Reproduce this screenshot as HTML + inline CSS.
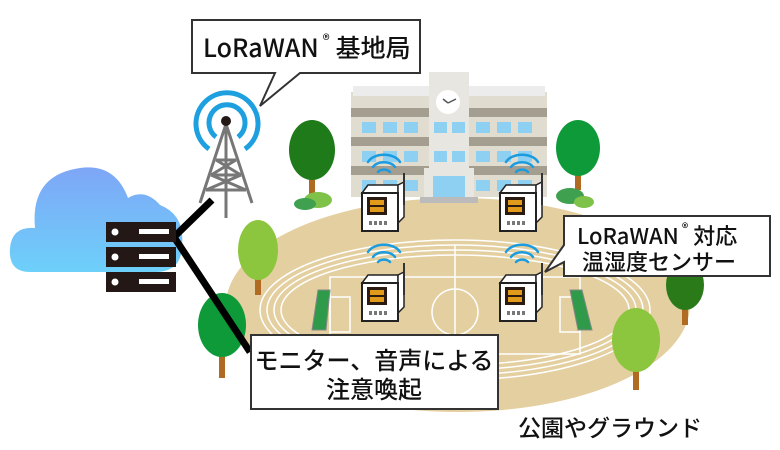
<!DOCTYPE html>
<html><head><meta charset="utf-8"><style>
html,body{margin:0;padding:0;background:#fff;width:780px;height:450px;overflow:hidden}
svg{display:block}
text{font-family:"Noto Sans CJK JP","Liberation Sans",sans-serif;font-weight:500;fill:#111}
</style></head><body>
<svg width="780" height="450" viewBox="0 0 780 450" xmlns="http://www.w3.org/2000/svg">
<defs>
<linearGradient id="cg" x1="0" y1="0" x2="0" y2="1"><stop offset="0" stop-color="#7ea6f6"/><stop offset="1" stop-color="#6dd0fa"/></linearGradient>
<g id="sensor">
 <path d="M0 8 L6 0 L36 0 L36 8 Z" fill="#fff" stroke="#222" stroke-width="1.5"/>
 <path d="M36 0 L42 -3 L42 32 L36 38 Z" fill="#fff" stroke="#222" stroke-width="1.5"/>
 <rect x="0" y="8" width="36" height="38" fill="#fff" stroke="#222" stroke-width="2"/>
 <rect x="5" y="12" width="20" height="18" fill="#2a1a10"/>
 <rect x="8" y="15" width="14" height="5" fill="#e29a1a"/><rect x="8" y="22" width="14" height="5" fill="#e29a1a"/>
 <rect x="7" y="36" width="3" height="4" fill="#777"/><rect x="12" y="36" width="3" height="4" fill="#777"/><rect x="17" y="36" width="3" height="4" fill="#777"/><rect x="22" y="36" width="3" height="4" fill="#777"/>
 <line x1="42" y1="-12" x2="42" y2="20" stroke="#333" stroke-width="2"/>
 <g fill="none" stroke="#1b9be0" stroke-width="2.5" stroke-linecap="round">
  <path d="M16 -13 A7 5 0 0 1 28 -13"/><path d="M11 -18 A12 8 0 0 1 33 -18"/><path d="M6 -23 A17 11 0 0 1 38 -23"/>
 </g>
</g>
<g id="tree">
 <path d="M-3 0 L-3 -25 L-12 -35 L-3 -30 L-3 -40 L3 -40 L3 -30 L12 -35 L3 -25 L3 0 Z" fill="#b06a22"/>
</g>
</defs>

<path d="M30 272 Q8 272 10 248 Q12 226 35 228 Q30 175 80 168 Q115 163 128 198 Q145 188 160 205 Q185 215 182 245 Q182 272 155 272 Z" fill="url(#cg)"/>

<ellipse cx="458" cy="305" rx="232" ry="107" fill="#e4cfa0"/>
<g fill="none" stroke="#fff" stroke-width="1.5">
<ellipse cx="455" cy="310" rx="195" ry="70"/>
<ellipse cx="455" cy="310" rx="188" ry="65"/>
<ellipse cx="455" cy="310" rx="181" ry="60"/>
<ellipse cx="455" cy="310" rx="174" ry="55"/>
<rect x="330" y="277" width="250" height="77"/>
<line x1="455" y1="245" x2="455" y2="375"/>
<circle cx="455" cy="312" r="23"/>
<rect x="330" y="297" width="20" height="35"/><rect x="560" y="297" width="20" height="35"/>
</g>
<g fill="#2e9a4a" stroke="#888" stroke-width="1">
<path d="M318 290 L330 290 L326 330 L312 330 Z"/>
<path d="M570 290 L582 290 L592 330 L578 330 Z"/>
</g>

<rect x="351" y="92" width="196" height="105" fill="#e0dccf"/>
<rect x="353" y="86" width="192" height="10" fill="#ececec"/>
<g fill="#a39e90"><rect x="351" y="108" width="196" height="9"/><rect x="351" y="137" width="196" height="9"/><rect x="351" y="166" width="196" height="9"/></g>
<rect x="429" y="72" width="40" height="103" fill="#e8e6e0"/>
<circle cx="448" cy="102" r="12" fill="#fff"/>
<path d="M448 103 L443 99 M448 103 L456 99" stroke="#555" stroke-width="1.5"/>
<rect x="424" y="168" width="50" height="30" fill="#e8e6e0"/>
<rect x="433" y="176" width="32" height="22" fill="#8ed0f2"/>
<rect x="420" y="197" width="58" height="6" fill="#bbb"/>
<g fill="#8ed0f2">
<rect x="362" y="122" width="14" height="11"/><rect x="383" y="122" width="14" height="11"/><rect x="404" y="122" width="14" height="11"/>
<rect x="362" y="151" width="14" height="11"/><rect x="383" y="151" width="14" height="11"/><rect x="404" y="151" width="14" height="11"/>
<rect x="362" y="180" width="14" height="11"/><rect x="383" y="180" width="14" height="11"/><rect x="404" y="180" width="14" height="11"/>
<rect x="434" y="122" width="13" height="11"/><rect x="452" y="122" width="13" height="11"/>
<rect x="434" y="151" width="13" height="11"/><rect x="452" y="151" width="13" height="11"/>
<rect x="476" y="122" width="14" height="11"/><rect x="497" y="122" width="14" height="11"/><rect x="518" y="122" width="14" height="11"/>
<rect x="476" y="151" width="14" height="11"/><rect x="497" y="151" width="14" height="11"/><rect x="518" y="151" width="14" height="11"/>
<rect x="476" y="180" width="14" height="11"/><rect x="497" y="180" width="14" height="11"/><rect x="518" y="180" width="14" height="11"/>
</g>

<g><use href="#tree" x="312" y="195"/><ellipse cx="312" cy="150" rx="23" ry="30" fill="#1f7a1a"/></g>
<g><use href="#tree" x="578" y="190"/><ellipse cx="578" cy="148" rx="22" ry="28" fill="#0f9a3a"/></g>
<ellipse cx="318" cy="200" rx="14" ry="8" fill="#7fc24a"/><ellipse cx="305" cy="204" rx="11" ry="6" fill="#3fa050"/>
<ellipse cx="570" cy="196" rx="14" ry="8" fill="#3fa050"/><ellipse cx="584" cy="202" rx="10" ry="6" fill="#7fc24a"/>
<g><use href="#tree" x="258" y="295"/><ellipse cx="258" cy="250" rx="20" ry="30" fill="#8cc63f"/></g>
<g><use href="#tree" x="222" y="378"/><ellipse cx="222" cy="325" rx="24" ry="32" fill="#0f9a3a"/></g>
<g><use href="#tree" x="685" y="325"/><ellipse cx="685" cy="285" rx="19" ry="25" fill="#2a7a1a"/></g>
<g><use href="#tree" x="636" y="390"/><ellipse cx="636" cy="340" rx="24" ry="32" fill="#8cc63f"/></g>

<use href="#sensor" x="362" y="185"/>
<use href="#sensor" x="500" y="185"/>
<use href="#sensor" x="362" y="275"/>
<use href="#sensor" x="500" y="275"/>

<g stroke="#000" stroke-width="7" fill="none"><path d="M212 200 L174 237 L250 352"/></g>

<g>
<rect x="106" y="222" width="70" height="20" fill="#231815"/>
<rect x="106" y="247" width="70" height="20" fill="#231815"/>
<rect x="106" y="272" width="70" height="20" fill="#231815"/>
<g fill="#fff"><circle cx="115" cy="232" r="3.5"/><circle cx="115" cy="257" r="3.5"/><circle cx="115" cy="282" r="3.5"/>
<rect x="139" y="229" width="30" height="5"/><rect x="139" y="254" width="30" height="5"/><rect x="139" y="279" width="30" height="5"/></g>
</g>

<g stroke="#777" stroke-width="3" fill="none">
<line x1="226" y1="124" x2="200" y2="203"/><line x1="226" y1="124" x2="252" y2="203"/><line x1="226" y1="124" x2="226" y2="218"/>
<path d="M216 160 L236 160 M211 175 L241 175 M206 190 L246 190 M216 160 L241 175 M236 160 L211 175 M211 175 L246 190 M241 175 L206 190"/>
</g>
<circle cx="226" cy="121" r="5" fill="#231815"/>
<g fill="none" stroke="#1ea0e0" stroke-width="5">
<path d="M216 137 A18 18 0 1 1 238 137"/>
<path d="M209 149 A31 31 0 1 1 245 149"/>
</g>

<path d="M192 20 L420 20 L420 73 L300 73 L260 106 L275 73 L192 73 Z" fill="#fff" stroke="#333" stroke-width="2"/>
<text x="203" y="57" font-size="25">LoRaWAN<tspan font-size="14" dy="-12" dx="4">®</tspan><tspan dy="12" dx="6">基地局</tspan></text>

<path d="M564 216 L770 216 L770 276 L564 276 L564 262 L545 272 L564 245 Z" fill="#fff" stroke="#333" stroke-width="2"/>
<text x="577" y="244" font-size="22">LoRaWAN<tspan font-size="13" dy="-11" dx="3">®</tspan><tspan dy="11" dx="5">対応</tspan></text>
<text x="582" y="270" font-size="22">温湿度センサー</text>

<rect x="251" y="335" width="247" height="74" fill="#fff" stroke="#333" stroke-width="2"/>
<text x="374" y="369" font-size="24" text-anchor="middle">モニター、音声による</text>
<text x="374" y="398" font-size="24" text-anchor="middle">注意喚起</text>

<text x="518" y="436" font-size="23">公園やグラウンド</text>
</svg>
</body></html>
